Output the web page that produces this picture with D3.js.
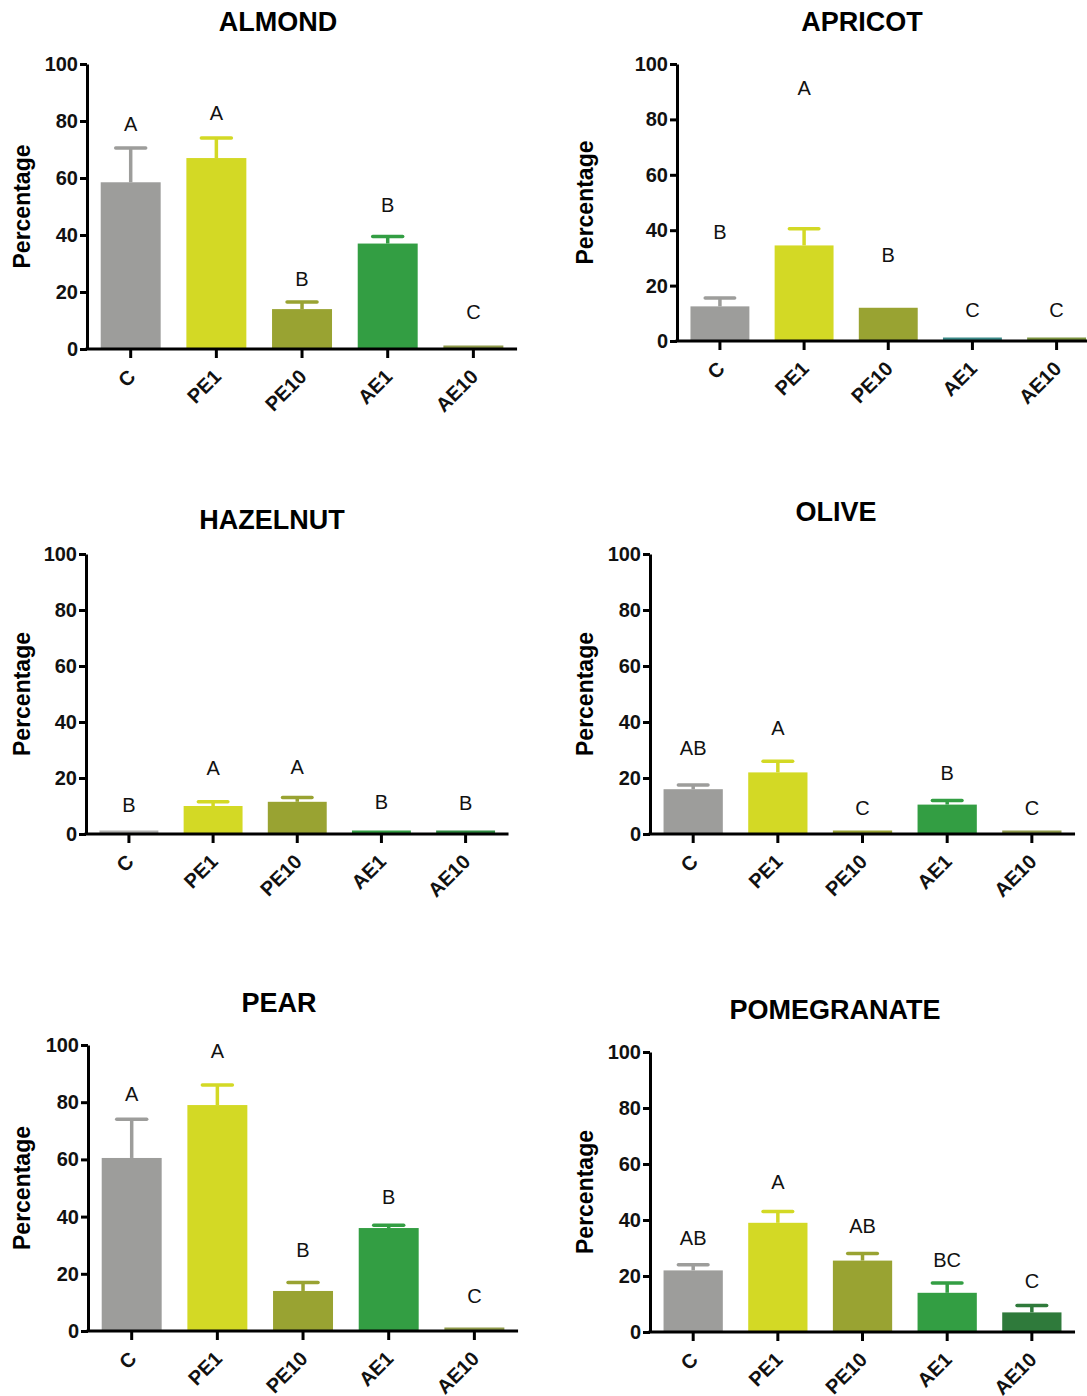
<!DOCTYPE html>
<html>
<head>
<meta charset="utf-8">
<script src="https://cdn.jsdelivr.net/npm/d3@7"></script>
<style>
  body { margin: 0; background: #fff; }
  svg { display: block; font-family: 'Liberation Sans', Arial, sans-serif; }
</style>
</head>
<body>
<div id="chart"></div>
<script>
// dati — vrijednosti očitane sa slike
const categories = ['C', 'PE1', 'PE10', 'AE1', 'AE10'];
const yTicks = [0, 20, 40, 60, 80, 100];

const almondMean   = [58.5, 67, 14, 37, 0.5];
const almondErr    = [70.5, 74, 16.5, 39.5, 0.5];
const almondLetter = ['A', 'A', 'B', 'B', 'C'];
const almondLetY   = [79, 83, 24.5, 50.5, 13];

const apricotMean   = [12.5, 34.5, 12, 0.8, 0.8];
const apricotErr    = [15.5, 40.5, 12.2, 0.8, 0.8];
const apricotLetter = ['B', 'A', 'B', 'C', 'C'];
const apricotLetY   = [39.3, 91.3, 31, 11.2, 11.2];

const hazelMean   = [0.5, 10, 11.5, 0.5, 0.5];
const hazelErr    = [0.5, 11.5, 13, 0.5, 0.5];
const hazelLetter = ['B', 'A', 'A', 'B', 'B'];
const hazelLetY   = [10.4, 23.6, 24, 11.4, 11];

const oliveMean   = [16, 22, 0.3, 10.5, 0.3];
const oliveErr    = [17.5, 26, 0.3, 12, 0.3];
const oliveLetter = ['AB', 'A', 'C', 'B', 'C'];
const oliveLetY   = [30.7, 37.9, 9.3, 22, 9.3];

const pearMean   = [60.5, 79, 14, 36, 0.3];
const pearErr    = [74, 86, 17, 37, 0.3];
const pearLetter = ['A', 'A', 'B', 'B', 'C'];
const pearLetY   = [83, 98, 28.3, 46.9, 12.2];

const pomMean   = [22, 39, 25.5, 14, 7];
const pomErr    = [24, 43, 28, 17.5, 9.5];
const pomLetter = ['AB', 'A', 'AB', 'BC', 'C'];
const pomLetY   = [33.6, 53.6, 37.9, 25.7, 18.2];

const baseColors = ['#9d9d9b', '#d3d925', '#99a332', '#339e43', '#8f9a4a'];

// paneli — raspored
const panels = [
  { title: 'ALMOND', mean: almondMean, err: almondErr, letter: almondLetter, letY: almondLetY,
    ax: 87, y0: 349, y100: 64, step: 85.5, tx: 278, ty: 31, lx: 22 },
  { title: 'APRICOT', mean: apricotMean, err: apricotErr, letter: apricotLetter, letY: apricotLetY,
    ax: 677, y0: 341, y100: 64, step: 84, tx: 862, ty: 31, lx: 585,
    colors: ['#9d9d9b', '#d3d925', '#99a332', '#3b8a88', '#7c9440'] },
  { title: 'HAZELNUT', mean: hazelMean, err: hazelErr, letter: hazelLetter, letY: hazelLetY,
    ax: 86, y0: 834, y100: 554, step: 84, tx: 272, ty: 529, lx: 22,
    colors: ['#b0b0ae', '#d3d925', '#99a332', '#339e43', '#2f8a40'] },
  { title: 'OLIVE', mean: oliveMean, err: oliveErr, letter: oliveLetter, letY: oliveLetY,
    ax: 650, y0: 834, y100: 554, step: 84.5, tx: 836, ty: 521, lx: 585 },
  { title: 'PEAR', mean: pearMean, err: pearErr, letter: pearLetter, letY: pearLetY,
    ax: 88, y0: 1331, y100: 1045, step: 85.5, tx: 279, ty: 1012, lx: 22 },
  { title: 'POMEGRANATE', mean: pomMean, err: pomErr, letter: pomLetter, letY: pomLetY,
    ax: 650, y0: 1332, y100: 1052, step: 84.5, tx: 835, ty: 1019, lx: 585,
    colors: ['#9d9d9b', '#d3d925', '#99a332', '#339e43', '#2f7a3b'] },
];

const svg = d3.select('#chart').append('svg').attr('width', 1087).attr('height', 1396);

function drawPanel(p) {
  const cols = p.colors || baseColors;
  const W = p.step * 5.03;
  const x = d3.scaleBand().domain(categories).range([p.ax, p.ax + W])
    .paddingInner(0.3).paddingOuter(0.16);
  const y = d3.scaleLinear().domain([0, 100]).range([p.y0, p.y100]);
  const g = svg.append('g');
  const bw = x.bandwidth();

  // naslov
  g.append('text').attr('x', p.tx).attr('y', p.ty).attr('text-anchor', 'middle')
    .attr('font-size', 27).attr('font-weight', 'bold').text(p.title);

  // stupci
  categories.forEach((c, i) => {
    const col = cols[i];
    const bx = x(c), cx = bx + bw / 2;
    const h = Math.max(3.5, y(0) - y(p.mean[i]));
    g.append('rect').attr('x', bx).attr('y', y(0) - h).attr('width', bw)
      .attr('height', h).attr('fill', col);
    if (p.err[i] > p.mean[i] + 0.3) {
      g.append('line').attr('x1', cx).attr('x2', cx)
        .attr('y1', y(p.mean[i])).attr('y2', y(p.err[i]))
        .attr('stroke', col).attr('stroke-width', 3.5);
      g.append('line').attr('x1', cx - bw / 4).attr('x2', cx + bw / 4)
        .attr('y1', y(p.err[i])).attr('y2', y(p.err[i]))
        .attr('stroke', col).attr('stroke-width', 3.5).attr('stroke-linecap', 'round');
    }
    g.append('text').attr('x', cx).attr('y', y(p.letY[i])).attr('dy', '0.36em')
      .attr('text-anchor', 'middle').attr('font-size', 20).attr('fill', '#111')
      .text(p.letter[i]);
  });

  // y os
  const ya = g.append('g').attr('transform', `translate(${p.ax},0)`)
    .call(d3.axisLeft(y).tickValues(yTicks).tickSize(7).tickSizeOuter(0).tickPadding(2));
  ya.select('.domain').attr('stroke-width', 3);
  ya.selectAll('.tick line').attr('stroke-width', 3);
  ya.selectAll('.tick text').attr('font-size', 20).attr('font-weight', 'bold')
    .attr('font-family', "'Liberation Sans', Arial, sans-serif").attr('fill', '#111');

  // x os
  const xa = g.append('g').attr('transform', `translate(0,${p.y0})`)
    .call(d3.axisBottom(x).tickSize(9).tickSizeOuter(0).tickPadding(0));
  xa.select('.domain').attr('stroke-width', 3).attr('d', `M${p.ax - 1.5},0H${p.ax + W}`);
  xa.selectAll('.tick line').attr('stroke-width', 3);
  xa.selectAll('.tick text').attr('font-size', 20).attr('font-weight', 'bold')
    .attr('font-family', "'Liberation Sans', Arial, sans-serif").attr('fill', '#111')
    .attr('text-anchor', 'end').attr('y', 0).attr('dy', '0.35em')
    .attr('transform', 'translate(1,24) rotate(-45)');

  // oznaka osi
  g.append('text').attr('transform', `translate(${p.lx + 8},${(p.y0 + p.y100) / 2}) rotate(-90)`)
    .attr('text-anchor', 'middle').attr('font-size', 23).attr('font-weight', 'bold')
    .text('Percentage');
}

panels.forEach(drawPanel);
</script>
</body>
</html>
